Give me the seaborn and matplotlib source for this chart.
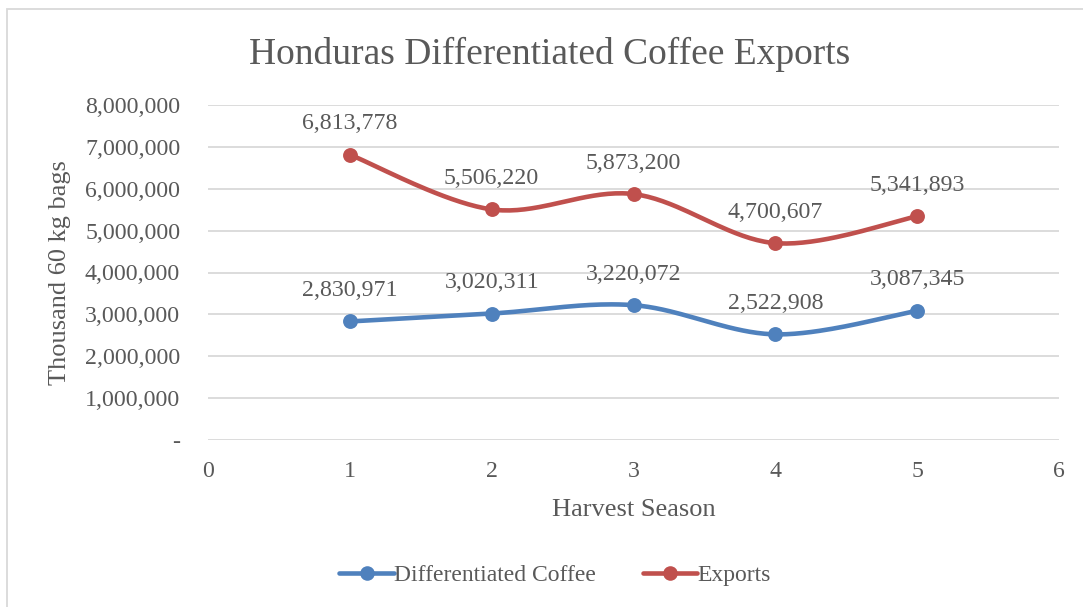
import numpy as np
import pandas as pd
import matplotlib
matplotlib.use("Agg")
import matplotlib.pyplot as plt
from matplotlib.lines import Line2D
from matplotlib.patches import Rectangle
import seaborn as sns

seasons = [1, 2, 3, 4, 5]
differentiated = [2830971, 3020311, 3220072, 2522908, 3087345]
exports = [6813778, 5506220, 5873200, 4700607, 5341893]
series_names = ["Differentiated Coffee", "Exports"]
colors = ["#4F81BD", "#C0504D"]
y_ticks = [0, 1000000, 2000000, 3000000, 4000000, 5000000, 6000000, 7000000, 8000000]
x_ticks = [0, 1, 2, 3, 4, 5, 6]

sns.set_theme(style="white")
plt.rcParams['font.family'] = ['Liberation Serif', 'DejaVu Serif']
TXT = "#595959"


def smooth(xs, ys, n=40):
    xs = np.asarray(xs, float); ys = np.asarray(ys, float)
    P = np.column_stack([xs, ys])
    out = []
    for i in range(len(P) - 1):
        p0 = P[i - 1] if i > 0 else P[i]
        p1 = P[i]; p2 = P[i + 1]
        p3 = P[i + 2] if i + 2 < len(P) else P[i + 1]
        c1 = p1 + (p2 - p0) / 6.0
        c2 = p2 - (p3 - p1) / 6.0
        t = np.linspace(0, 1, n)[:, None]
        seg = (1 - t) ** 3 * p1 + 3 * (1 - t) ** 2 * t * c1 + 3 * (1 - t) * t ** 2 * c2 + t ** 3 * p2
        out.append(seg if i == 0 else seg[1:])
    seg = np.vstack(out)
    return seg[:, 0], seg[:, 1]


fig = plt.figure(figsize=(10.83, 6.07), dpi=100)
ax = fig.add_axes([208 / 1083, 1 - 440 / 607, (1059 - 208) / 1083, (440 - 105) / 607])

fig.patches.append(Rectangle((7 / 1083, -0.1), 1.2, 1 - 9 / 607 + 0.1, transform=fig.transFigure,
                             fill=False, edgecolor="#D9D9D9", linewidth=1.3, zorder=0))

handles = []
for name, vals, col in zip(series_names, [differentiated, exports], colors):
    sx, sy = smooth(seasons, vals)
    sns.lineplot(x=sx, y=sy, ax=ax, color=col, linewidth=3.3, sort=False, estimator=None, zorder=3)
    sns.scatterplot(x=seasons, y=vals, ax=ax, color=col, s=115, edgecolor=col, linewidth=0, zorder=4)
    for x, v in zip(seasons, vals):
        ax.annotate(f"{v:,}", (x, v), xytext=(0, 31), textcoords="offset pixels",
                    ha="center", va="center", fontsize=17.2, color=TXT)
    handles.append(Line2D([0], [0], color=col, linewidth=3.3, marker="o", markersize=10.5,
                          markeredgewidth=0))

ax.set_xlim(0, 6)
ax.set_ylim(0, 8000000)
ax.set_xticks(x_ticks)
ax.set_yticks(y_ticks)
ax.set_xticklabels([str(t) for t in x_ticks])
ax.set_yticklabels(["-" if t == 0 else f"{t:,}" for t in y_ticks])
ax.tick_params(axis="both", labelsize=17.2, labelcolor=TXT, length=0)
ax.tick_params(axis="y", pad=20)
ax.tick_params(axis="x", pad=15)
ax.grid(axis="y", color="#D9D9D9", linewidth=1.3)
ax.grid(axis="x", visible=False)
for s in ax.spines.values():
    s.set_visible(False)

ax.set_xlabel("Harvest Season", fontsize=19, color=TXT, labelpad=12)
ax.set_ylabel("Thousand 60 kg bags", fontsize=19, color=TXT, labelpad=10)
fig.text(550 / 1083, 1 - 54 / 607, "Honduras Differentiated Coffee Exports", ha="center", va="center",
         fontsize=27, color=TXT)

fig.legend(handles, series_names, loc="center", bbox_to_anchor=(555 / 1083, 1 - 575 / 607), ncol=2,
           frameon=False, fontsize=17.0, labelcolor=TXT, handlelength=2.3, handletextpad=0.0,
           columnspacing=2.0)

fig.savefig("out.png", dpi=100)
